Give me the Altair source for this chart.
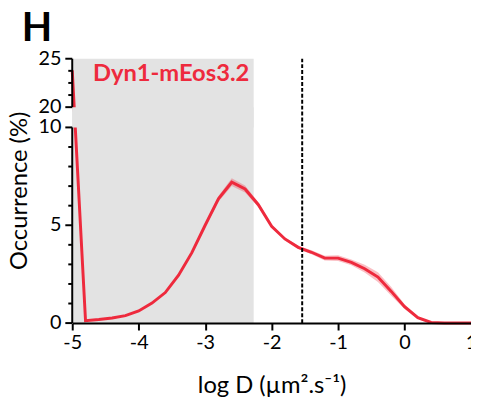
import altair as alt
import pandas as pd

# ---- data ----
log_d = [-5.0, -4.8, -4.6, -4.4, -4.2, -4.0, -3.8, -3.6, -3.4, -3.2, -3.0,
         -2.8, -2.6, -2.4, -2.2, -2.0, -1.8, -1.6, -1.4, -1.2, -1.0,
         -0.8, -0.6, -0.4, -0.2, 0.0, 0.2, 0.4, 0.6, 0.8, 1.0]
occurrence = [23.8, 0.12, 0.18, 0.26, 0.38, 0.62, 1.02, 1.56, 2.45, 3.6, 5.0,
              6.35, 7.2, 6.85, 6.05, 4.95, 4.3, 3.87, 3.62, 3.32, 3.32,
              3.1, 2.78, 2.35, 1.62, 0.84, 0.28, 0.03, 0.0, 0.0, 0.0]
sem = [0.1, 0.03, 0.03, 0.03, 0.03, 0.03, 0.03, 0.04, 0.05, 0.06, 0.1,
       0.15, 0.2, 0.18, 0.12, 0.08, 0.08, 0.08, 0.1, 0.12, 0.15,
       0.15, 0.2, 0.25, 0.22, 0.12, 0.06, 0.03, 0.02, 0.02, 0.02]

shade_range = [-5.0, -2.27]      # shaded region
threshold = -1.54                # dashed threshold line
y_lower = [0, 10]
y_upper = [20, 25]
label_text = "Dyn1-mEos3.2"
panel_letter = "H"
x_title = "log D (µm².s⁻¹)"
y_title = "Occurrence (%)"

x_ticks = [-5 + 0.5 * i for i in range(13)]
y_major = [0, 5, 10, 20, 25]
y_minor = [1, 2, 3, 4, 6, 7, 8, 9, 21.25, 22.5, 23.75]

RED = "#ee2a3d"
GRAY = "#e3e3e3"
FONT = "Lato"

df = pd.DataFrame({"x": log_d, "y": occurrence, "sem": sem})
df["lo"] = df["y"] - df["sem"]
df["hi"] = df["y"] + df["sem"]

W, H = 403.5, 267.5

xscale = alt.Scale(domain=[-5, 1], nice=False)
yscale = alt.Scale(domain=[0, 10, 20, 25], range=[H, 69.5, 49, 0], nice=False, zero=False)

xaxis = alt.Axis(values=x_ticks, labelExpr="datum.value % 1 === 0 ? '' + datum.value : ''",
                 title=x_title, grid=False, zindex=2,
                 domainColor="black", domainWidth=2, tickColor="black", tickWidth=2,
                 tickSize={"condition": {"test": "datum.value % 1 === 0", "value": 7}, "value": 4},
                 labelFont=FONT, labelFontSize=20, labelColor="black", labelPadding=3,
                 titleFont=FONT, titleFontSize=24, titleFontWeight="normal", titleColor="black",
                 titlePadding=21, labelFlush=False, labelOverlap=False)

shade = alt.Chart(pd.DataFrame({"x0": [shade_range[0]], "x1": [shade_range[1]],
                                "y0": [0], "y1": [25]})).mark_rect(color=GRAY).encode(
    x=alt.X("x0:Q", scale=xscale, axis=xaxis), x2="x1:Q",
    y=alt.Y("y0:Q", scale=yscale, axis=None), y2="y1:Q")

band = alt.Chart(df).mark_area(color=RED, opacity=0.3).encode(
    x=alt.X("x:Q", scale=xscale), y=alt.Y("lo:Q", scale=yscale), y2="hi:Q")

line = alt.Chart(df).mark_line(color=RED, strokeWidth=3).encode(
    x=alt.X("x:Q", scale=xscale), y=alt.Y("y:Q", scale=yscale))

gap = alt.Chart(pd.DataFrame({"x0": [shade_range[0]], "x1": [shade_range[1]],
                              "y0": [y_lower[1]], "y1": [y_upper[0]]})).mark_rect(color=GRAY).encode(
    x=alt.X("x0:Q", scale=xscale), x2="x1:Q",
    y=alt.Y("y0:Q", scale=yscale), y2="y1:Q")

dash = alt.Chart(pd.DataFrame({"x": [threshold], "y0": [0], "y1": [25]})).mark_rule(
    color="black", strokeWidth=2, strokeDash=[4, 2]).encode(
    x=alt.X("x:Q", scale=xscale), y=alt.Y("y0:Q", scale=yscale), y2="y1:Q")

# broken y axis drawn by hand
ydomain = alt.Chart(pd.DataFrame({"x": [-5, -5], "y0": [y_lower[0], y_upper[0]],
                                  "y1": [y_lower[1], y_upper[1]]})).mark_rule(
    color="black", strokeWidth=2).encode(
    x=alt.X("x:Q", scale=xscale), y=alt.Y("y0:Q", scale=yscale), y2="y1:Q")

ymajor = alt.Chart(pd.DataFrame({"v": y_major})).mark_rule(color="black", strokeWidth=2).encode(
    y=alt.Y("v:Q", scale=yscale), x=alt.value(-7), x2=alt.value(0))
yminor = alt.Chart(pd.DataFrame({"v": y_minor})).mark_rule(color="black", strokeWidth=2).encode(
    y=alt.Y("v:Q", scale=yscale), x=alt.value(-4), x2=alt.value(0))
ylabels = alt.Chart(pd.DataFrame({"v": y_major, "t": [str(v) for v in y_major]})).mark_text(
    align="right", baseline="middle", font=FONT, fontSize=20, color="black").encode(
    y=alt.Y("v:Q", scale=yscale), x=alt.value(-11), text="t:N")
ytitle = alt.Chart(pd.DataFrame({"t": [y_title]})).mark_text(
    align="center", baseline="middle", font=FONT, fontSize=24, color="black", angle=270).encode(
    text="t:N", x=alt.value(-53), y=alt.value(H / 2))

label = alt.Chart(pd.DataFrame({"t": [label_text]})).mark_text(
    align="left", baseline="alphabetic", font=FONT, fontSize=24, fontWeight="bold",
    color=RED).encode(text="t:N", x=alt.value(21), y=alt.value(23))

letter = alt.Chart(pd.DataFrame({"t": [panel_letter]})).mark_text(
    align="left", baseline="alphabetic", font=FONT, fontSize=40, fontWeight="bold",
    color="black").encode(text="t:N", x=alt.value(-51), y=alt.value(-18))

chart = alt.layer(shade, band, line, gap, dash, ydomain, ymajor, yminor, ylabels, ytitle,
                  label, letter).properties(
    width=W, height=H,
    autosize=alt.AutoSizeParams(type="none"),
    padding={"left": 65, "top": 49, "right": 0, "bottom": 76},
).configure_view(stroke=None)

chart.save("out.html", embed_options={"renderer": "svg", "actions": False})
